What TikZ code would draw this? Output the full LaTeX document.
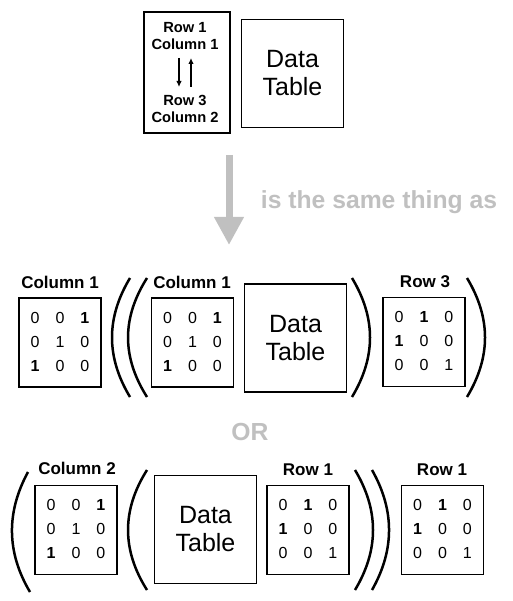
\documentclass[tikz,border=0pt]{standalone}
\usepackage{fontspec}
\setmainfont{Liberation Sans}
\usetikzlibrary{arrows.meta}
\definecolor{lightgr}{RGB}{192,192,192}
\newcommand{\pmColA}{{\setlength{\tabcolsep}{8pt}\begin{tabular}{@{}ccc@{}}0&0&\textbf{1}\\0&1&0\\\textbf{1}&0&0\end{tabular}}}
\newcommand{\pmRowA}{{\setlength{\tabcolsep}{8pt}\begin{tabular}{@{}ccc@{}}0&\textbf{1}&0\\\textbf{1}&0&0\\0&0&1\end{tabular}}}
\tikzset{
  matbox/.style={draw, line width=1.2pt, minimum width=82pt, minimum height=89pt, inner sep=0pt, font=\fontsize{16}{24}\selectfont},
  datbox/.style={draw, line width=1.2pt, minimum width=102pt, minimum height=108pt, inner sep=0pt, align=center, font=\fontsize{25}{28}\selectfont},
  lbl/.style={inner sep=0pt, font=\bfseries\fontsize{17}{19}\selectfont},
  toplbl/.style={inner sep=0pt, font=\bfseries\fontsize{14.7}{16}\selectfont},
  paren/.style={line width=2.5pt},
  gtext/.style={inner sep=0pt, text=lightgr, font=\bfseries\fontsize{24.7}{28}\selectfont},
  smallarr/.style={line width=1.2pt, -{Latex[length=6pt,width=5.5pt]}}
}
\begin{document}
\begin{tikzpicture}[x=1pt,y=-1pt]
\useasboundingbox (0,0) rectangle (512,601);
% top
\node[draw, line width=1.2pt, minimum width=86pt, minimum height=121pt, inner sep=0pt] (boxA) at (187,72.5) {};
\node[toplbl] (r1) at (185,28) {Row 1};
\node[toplbl] (c1) at (185,44) {Column 1};
\node[toplbl] (r3) at (185,100) {Row 3};
\node[toplbl] (c2) at (185,117) {Column 2};
\coordinate (d1) at (179,58);
\coordinate (d2) at (179,87);
\coordinate (u1) at (191,87);
\coordinate (u2) at (191,58);
\draw[smallarr] (d1) -- (d2);
\draw[smallarr] (u1) -- (u2);
\node[datbox] (dtTop) at (292.5,73.5) {Data\\Table};
% gray arrow
\coordinate (g1) at (229,155);
\coordinate (g2) at (229,245);
\draw[lightgr, line width=7pt, -{Triangle[width=28pt,length=28pt]}] (g1) -- (g2);
\node[gtext] (same) at (379,202) {is the same thing as};
% middle row
\node[lbl] (lm1) at (60,282) {Column 1};
\node[matbox] (m1) at (60,342.5) {\pmColA};
\draw[paren] (130,278) .. controls (106,318) and (106,357) .. (130,397);
\draw[paren] (147,278) .. controls (121.7,318) and (121.7,357) .. (147,397);
\node[lbl] (lm2) at (192,282) {Column 1};
\node[matbox] (m2) at (192.5,342.5) {\pmColA};
\node[datbox] (dtMid) at (295.5,338) {Data\\Table};
\draw[paren] (352,278) .. controls (376,318) and (376,357) .. (352,397);
\node[lbl] (lm3) at (425,282) {Row 3};
\node[matbox] (m3) at (424,342) {\pmRowA};
\draw[paren] (467,278) .. controls (491,318) and (491,357) .. (467,397);
% OR
\node[gtext] (or) at (250,432) {OR};
% bottom row
\draw[paren] (28,472) .. controls (6.3,512) and (6.3,552) .. (30,592);
\node[lbl] (lb1) at (77,468) {Column 2};
\node[matbox] (b1) at (76,530) {\pmColA};
\draw[paren] (147,470) .. controls (121.7,510) and (121.7,550) .. (147,590);
\node[datbox] (dtBot) at (205.5,529.5) {Data\\Table};
\node[lbl] (lb2) at (308,470) {Row 1};
\node[matbox] (b2) at (308,530) {\pmRowA};
\draw[paren] (355,470) .. controls (379,510) and (379,550) .. (355,590);
\draw[paren] (372,470) .. controls (394.7,510) and (394.7,550) .. (372,590);
\node[lbl] (lb3) at (442,470) {Row 1};
\node[matbox] (b3) at (442.5,530) {\pmRowA};
\end{tikzpicture}
\end{document}
